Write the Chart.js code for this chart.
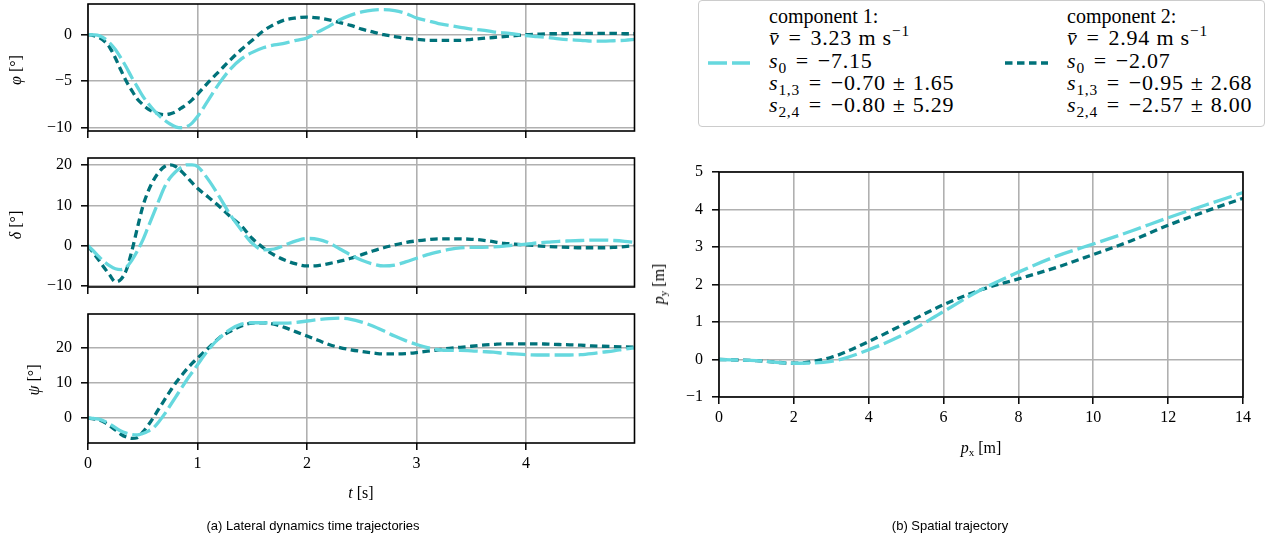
<!DOCTYPE html>
<html>
<head>
<meta charset="utf-8">
<script src="https://cdn.jsdelivr.net/npm/chart.js@4.4.1/dist/chart.umd.min.js"></script>
<style>
  body { margin: 0; background: #fff; }
  #page { position: relative; width: 1269px; height: 544px; overflow: hidden; font-family: "Liberation Serif", serif; color: #000; }
  canvas { position: absolute; }
  .ytitle { position: absolute; font-size: 16px; white-space: nowrap; transform: translate(-50%, -50%) rotate(-90deg); }
  .xtitle { position: absolute; font-size: 16px; white-space: nowrap; transform: translate(-50%, -50%); }
  .caption { position: absolute; font-family: "Liberation Sans", Arial, sans-serif; font-size: 13px; transform: translate(-50%, -50%); white-space: nowrap; }
  #legend { position: absolute; left: 698px; top: 0px; width: 567px; height: 127px; border: 1px solid #cccccc; border-radius: 4px; box-sizing: border-box; }
  .lcol { position: absolute; top: 4px; font-size: 20px; line-height: 22.3px; white-space: nowrap; }
  .m { font-size: 22px; letter-spacing: 0.8px; }
  .op { margin: 0 0.4em; }
  .pm { margin: 0 0.32em; }
  sub, sup { font-size: 70%; line-height: 0; }
  sub { vertical-align: -0.3em; }
  sup { vertical-align: 0.6em; }
</style>
</head>
<body>
<div id="page">
  <canvas id="phiChart" width="640" height="140" style="left:0;top:0"></canvas>
  <canvas id="deltaChart" width="640" height="148" style="left:0;top:148px"></canvas>
  <canvas id="psiChart" width="640" height="204" style="left:0;top:304px"></canvas>
  <canvas id="pathChart" width="629" height="320" style="left:640px;top:150px"></canvas>

  <div class="ytitle" style="left:16px;top:70px"><i>φ</i> [°]</div>
  <div class="ytitle" style="left:16px;top:225px"><i>δ</i> [°]</div>
  <div class="ytitle" style="left:34px;top:380px"><i>ψ</i> [°]</div>
  <div class="xtitle" style="left:361px;top:493px"><i>t</i> [s]</div>
  <div class="ytitle" style="left:659px;top:284px"><i>p</i><sub>y</sub> [m]</div>
  <div class="xtitle" style="left:981px;top:448px"><i>p</i><sub>x</sub> [m]</div>

  <div id="legend">
    <svg width="567" height="127" style="position:absolute;left:-1px;top:-1px">
      <line x1="10" y1="63" x2="52" y2="63" stroke="#66d8de" stroke-width="3.3" stroke-dasharray="19 5"></line>
      <line x1="307" y1="63" x2="350" y2="63" stroke="#00727a" stroke-width="3.3" stroke-dasharray="7.5 4.5"></line>
    </svg>
    <div class="lcol" style="left:70px">
      component 1:<br>
      <span class="m"><i>v̄</i><span class="op">=</span>3.23 m s<sup>−1</sup></span><br>
      <span class="m"><i>s</i><sub>0</sub><span class="op">=</span>−7.15</span><br>
      <span class="m"><i>s</i><sub>1,3</sub><span class="op">=</span>−0.70<span class="pm">±</span>1.65</span><br>
      <span class="m"><i>s</i><sub>2,4</sub><span class="op">=</span>−0.80<span class="pm">±</span>5.29</span>
    </div>
    <div class="lcol" style="left:368px">
      component 2:<br>
      <span class="m"><i>v̄</i><span class="op">=</span>2.94 m s<sup>−1</sup></span><br>
      <span class="m"><i>s</i><sub>0</sub><span class="op">=</span>−2.07</span><br>
      <span class="m"><i>s</i><sub>1,3</sub><span class="op">=</span>−0.95<span class="pm">±</span>2.68</span><br>
      <span class="m"><i>s</i><sub>2,4</sub><span class="op">=</span>−2.57<span class="pm">±</span>8.00</span>
    </div>
  </div>

  <div class="caption" style="left:313px;top:525px">(a) Lateral dynamics time trajectories</div>
  <div class="caption" style="left:950px;top:525px">(b) Spatial trajectory</div>
</div>

<script>
// time base: 0.05 s steps up to 1 s, then 0.1 s steps
const time = [0, 0.05, 0.1, 0.15, 0.2, 0.25, 0.3, 0.35, 0.4, 0.45, 0.5, 0.55, 0.6, 0.65, 0.7, 0.75, 0.8, 0.85, 0.9, 0.95, 1.0,
  1.1, 1.2, 1.3, 1.4, 1.5, 1.6, 1.7, 1.8, 1.9, 2.0, 2.1, 2.2, 2.3, 2.4, 2.5, 2.6, 2.7, 2.8, 2.9, 3.0,
  3.1, 3.2, 3.3, 3.4, 3.5, 3.6, 3.7, 3.8, 3.9, 4.0, 4.1, 4.2, 4.3, 4.4, 4.5, 4.6, 4.7, 4.8, 4.9, 5.0];

// roll angle phi [deg]
const phi1 = [0, -0.02, -0.1, -0.4, -0.9, -1.6, -2.5, -3.5, -4.6, -5.6, -6.6, -7.4, -8.1, -8.7, -9.2, -9.6, -9.9, -10.0, -9.9, -9.5, -8.8,
  -7.0, -5.2, -3.7, -2.6, -1.9, -1.4, -1.1, -0.9, -0.6, -0.35,
  0.3, 0.9, 1.6, 2.1, 2.45, 2.65, 2.7, 2.6, 2.3, 1.8,
  1.5, 1.2, 1.0, 0.8, 0.6, 0.5, 0.3, 0.2, 0.05, -0.1,
  -0.2, -0.3, -0.45, -0.55, -0.6, -0.7, -0.7, -0.65, -0.6, -0.5];
const phi2 = [0, -0.1, -0.3, -0.7, -1.4, -2.5, -3.8, -5.0, -6.0, -6.9, -7.5, -8.0, -8.3, -8.5, -8.6, -8.5, -8.3, -7.9, -7.5, -7.0, -6.4,
  -5.1, -3.9, -2.7, -1.6, -0.6, 0.4, 1.1, 1.6, 1.8, 1.9,
  1.8, 1.6, 1.3, 1.0, 0.6, 0.3, 0.0, -0.2, -0.4, -0.5,
  -0.6, -0.6, -0.6, -0.6, -0.5, -0.4, -0.3, -0.2, -0.1, 0.0,
  0.05, 0.1, 0.1, 0.15, 0.15, 0.15, 0.15, 0.15, 0.1, 0.1];

// steer angle delta [deg]
const delta1 = [0, -1.3, -2.7, -4.0, -5.0, -5.7, -5.9, -5.3, -3.6, -1.3, 1.4, 4.7, 8.0, 11.4, 14.6, 16.8, 18.3, 19.4, 20.0, 20.0, 19.6,
  16.3, 12.1, 7.6, 3.9, 0.6, -1.0, -0.8, 0.2, 1.2, 1.8,
  1.6, 0.7, -0.8, -2.3, -3.6, -4.5, -5.0, -4.8, -4.0, -3.1,
  -2.2, -1.5, -0.9, -0.5, -0.4, -0.4, -0.3, -0.1, 0.2, 0.4,
  0.7, 0.9, 1.1, 1.2, 1.3, 1.4, 1.4, 1.3, 1.1, 0.8];
const delta2 = [0, -1.8, -3.6, -5.5, -7.3, -8.9, -8.3, -6.0, -1.3, 4.3, 9.7, 13.5, 16.3, 18.3, 19.6, 20.0, 19.6, 18.5, 17.1, 15.6, 14.2,
  12.0, 9.7, 7.2, 4.9, 1.8, -0.5, -2.3, -3.6, -4.5, -5.0,
  -4.9, -4.4, -3.8, -3.1, -2.2, -1.3, -0.5, 0.2, 0.8, 1.2,
  1.5, 1.7, 1.7, 1.7, 1.6, 1.4, 1.0, 0.6, 0.4, 0.2,
  0.0, -0.2, -0.3, -0.4, -0.5, -0.5, -0.5, -0.4, -0.2, 0.0];

// heading psi [deg]
const psi1 = [0, -0.1, -0.3, -0.9, -1.7, -2.7, -3.7, -4.3, -4.7, -4.8, -4.4, -3.7, -2.7, -0.9, 1.2, 3.6, 6.0, 8.4, 10.8, 13.0, 15.2,
  19.5, 22.9, 25.3, 26.8, 27.2, 27.2, 27.1, 27.1, 27.3, 27.7,
  28.1, 28.4, 28.5, 28.2, 27.4, 26.3, 24.9, 23.4, 22.1, 21.0,
  20.1, 19.5, 19.3, 19.3, 19.2, 19.0, 18.8, 18.5, 18.3, 18.1,
  18.0, 18.0, 18.0, 18.0, 18.1, 18.4, 18.8, 19.2, 19.7, 20.1];
const psi2 = [0, -0.2, -0.5, -1.2, -2.2, -3.4, -4.6, -5.4, -5.8, -5.6, -4.0, -2.0, 0.3, 2.8, 5.3, 7.7, 10.0, 12.0, 13.9, 15.6, 17.1,
  20.0, 22.9, 24.8, 26.3, 27.1, 27.2, 26.8, 25.8, 24.6, 23.4,
  22.2, 21.0, 20.1, 19.5, 19.0, 18.6, 18.3, 18.3, 18.4, 18.7,
  19.1, 19.5, 19.9, 20.2, 20.5, 20.8, 21.0, 21.2, 21.2, 21.2,
  21.2, 21.1, 21.0, 20.9, 20.8, 20.6, 20.5, 20.4, 20.3, 20.2];

// spatial trajectory [m]
const posX = [0, 1, 2, 3, 4, 5, 6, 7, 8, 9, 10, 11, 12, 13, 14];
const posY1 = [0, -0.03, -0.1, -0.05, 0.26, 0.7, 1.28, 1.86, 2.33, 2.75, 3.08, 3.42, 3.78, 4.12, 4.45];
const posY2 = [0, -0.03, -0.1, 0.06, 0.48, 0.97, 1.46, 1.86, 2.15, 2.45, 2.8, 3.16, 3.58, 3.95, 4.3];

// tick labels
const timeTicks = [0, 1, 2, 3, 4];
const phiTicks = [-10, -5, 0];
const deltaTicks = [-10, 0, 10, 20];
const psiTicks = [0, 10, 20];
const posXTicks = [0, 2, 4, 6, 8, 10, 12, 14];
const posYTicks = [-1, 0, 1, 2, 3, 4, 5];

const light = '#66d8de';
const dark = '#00727a';
const gridColor = '#b0b0b0';
const serifFamily = 'Liberation Serif';

Chart.defaults.font.family = serifFamily;
Chart.defaults.font.size = 16;
Chart.defaults.color = '#000';

const framePlugin = {
    id: 'frame',
    afterDatasetsDraw(chart) {
        const {ctx, chartArea: a} = chart;
        ctx.save();
        ctx.strokeStyle = '#000';
        ctx.lineWidth = 1.6;
        ctx.strokeRect(a.left, a.top, a.right - a.left, a.bottom - a.top);
        ctx.restore();
    }
};

function fmt(v) {
    return v < 0 ? '\u2212' + Math.abs(v) : String(v);
}

function series(xs, ys, color, dash) {
    return {
        data: xs.map((x, i) => ({x: x, y: ys[i]})),
        borderColor: color,
        borderWidth: 3.3,
        borderDash: dash,
        borderCapStyle: 'butt',
        pointRadius: 0,
        cubicInterpolationMode: 'monotone',
        fill: false
    };
}

function axis(min, max, ticks, size, showLabels, isX) {
    return {
        type: 'linear',
        min: min,
        max: max,
        afterBuildTicks: s => { s.ticks = ticks.map(v => ({value: v})); },
        afterFit: s => {
            // fixed axis box, no extra label padding, so the plot frames line up
            if (isX) { s.height = size; s.paddingLeft = 0; s.paddingRight = 0; }
            else { s.width = size; s.paddingTop = 0; s.paddingBottom = 0; }
        },
        grid: {color: gridColor, lineWidth: 1.6, tickColor: '#000', tickLength: 7, tickWidth: 1.5},
        border: {display: false},
        ticks: {
            display: showLabels, color: '#000',
            font: {family: serifFamily, size: 16},
            padding: isX ? 4 : 9, callback: v => fmt(v), maxRotation: 0
        }
    };
}

function makeChart(id, xs, s1, s2, xAxis, yAxis, padding) {
    new Chart(document.getElementById(id), {
        type: 'line',
        data: {datasets: [series(xs, s1, light, [19, 5]), series(xs, s2, dark, [7.5, 4.5])]},
        options: {
            responsive: false,
            animation: false,
            layout: {padding: padding},
            plugins: {legend: {display: false}, tooltip: {enabled: false}},
            scales: {x: xAxis, y: yAxis}
        },
        plugins: [framePlugin]
    });
}

makeChart('phiChart', time, phi1, phi2,
    axis(0, 4.99, timeTicks, 9, false, true),
    axis(-10.35, 3.3, phiTicks, 88, true, false),
    {top: 4, right: 5.5, left: 0, bottom: 0});

makeChart('deltaChart', time, delta1, delta2,
    axis(0, 4.99, timeTicks, 9, false, true),
    axis(-10.2, 21.7, deltaTicks, 88, true, false),
    {top: 10, right: 5.5, left: 0, bottom: 0});

makeChart('psiChart', time, psi1, psi2,
    axis(0, 4.99, timeTicks, 65, true, true),
    axis(-7.1, 29.7, psiTicks, 88, true, false),
    {top: 10, right: 5.5, left: 0, bottom: 0});

makeChart('pathChart', posX, posY1, posY2,
    axis(0, 14, posXTicks, 73, true, true),
    axis(-1, 5, posYTicks, 79, true, false),
    {top: 22, right: 26, left: 0, bottom: 0});
</script>
</body>
</html>
